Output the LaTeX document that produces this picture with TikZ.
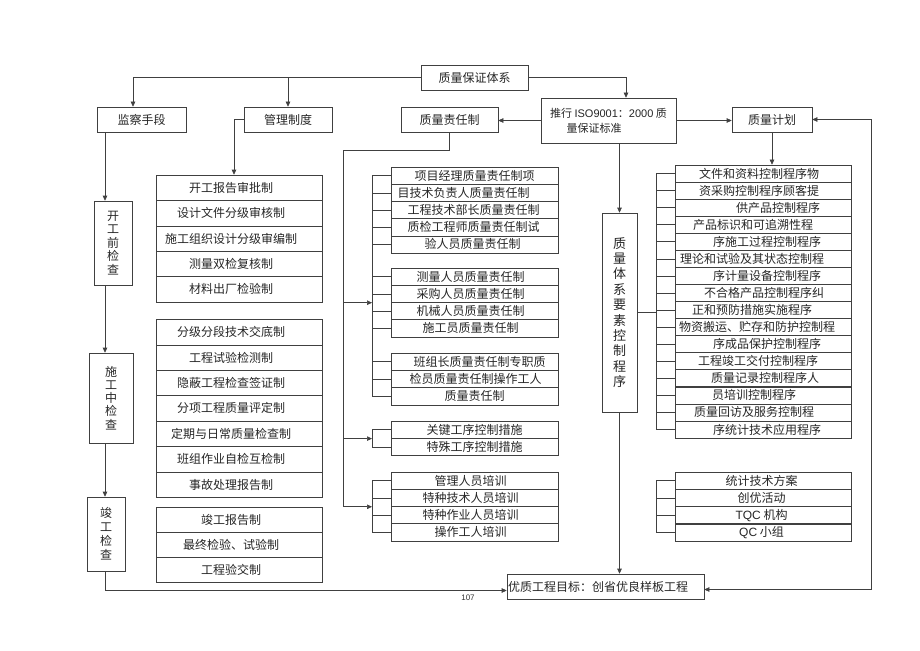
\documentclass[tikz,border=0pt]{standalone}
\usepackage{fontspec}
\setmainfont{Noto Sans CJK SC}
\newfontfamily\latinf{Liberation Sans}
\usetikzlibrary{arrows.meta,positioning}
\newcommand\zfs[2]{\fontsize{#1}{#2}\selectfont}
\newcommand\lt[1]{{\latinf #1}}
\tikzset{
    box/.style = {draw=black!75, line width=0.6pt, inner sep=0pt, text=black!85, font=\zfs{12}{14}},
    tshift/.style = {execute at begin node={\hspace*{#1pt}}},
    lrow/.style = {box, minimum width=166pt, minimum height=25.4pt, tshift=-16},
    mrow/.style = {box, minimum width=167pt, minimum height=17.2pt},
    rrow/.style = {box, minimum width=176pt, minimum height=17.1pt},
    vbox/.style = {box, align=center},
    link/.style = {draw=black!75, line width=0.6pt},
    arr/.style = {link, -{Triangle[length=5pt,width=4.5pt]}},
}

\begin{document}
\begin{tikzpicture}[x=1pt,y=-1pt]
\fill[white] (0,0) rectangle (920,650);
\useasboundingbox (0,0) rectangle (920,650);

% top row
\node[box, minimum width=107pt, minimum height=25pt] (sys) at (474.5,77.5) {质量保证体系};
\node[box, minimum width=89pt, minimum height=25pt] (jc) at (141.5,119.5) {监察手段};
\node[box, minimum width=88pt, minimum height=25pt] (gl) at (288,119.5) {管理制度};
\node[box, minimum width=97pt, minimum height=25pt] (zr) at (449.5,119.5) {质量责任制};
\node[box, minimum width=135pt, minimum height=45pt, align=left, font=\zfs{11}{15}] (iso) at (608.5,120.5)
    {推行 \lt{ISO9001}：\lt{2000} 质\\\hspace*{1.5em}量保证标准};
\node[box, minimum width=80pt, minimum height=25pt] (jh) at (772,119.5) {质量计划};

% inspection stages
\node[vbox, minimum width=38pt, minimum height=84pt, font=\zfs{12}{13.5}] (kg) at (113,243) {开\\工\\前\\检\\查};
\node[vbox, minimum width=44pt, minimum height=90pt, font=\zfs{12}{13.2}] (sg) at (111,398) {施\\工\\中\\检\\查};
\node[vbox, minimum width=38pt, minimum height=74pt, font=\zfs{12}{14}] (jg) at (106,534) {竣\\工\\检\\查};
\node[vbox, minimum width=35pt, minimum height=199pt, font=\zfs{13}{15.4}] (ys) at (619.5,312.5) {质\\量\\体\\系\\要\\素\\控\\制\\程\\序};

% goal
\node[box, minimum width=197pt, minimum height=25pt, tshift=-15] (goal) at (605.5,586.5) {优质工程目标：创省优良样板工程};
\node[text=black!80, font=\zfs{8}{8}\latinf] (pg) at (468,598) {107};

% management tables
\foreach \t [count=\i] in {开工报告审批制,设计文件分级审核制,施工组织设计分级审编制,测量双检复核制,材料出厂检验制}
    \node[lrow] (kb\i) at (239,{175+25.4*(\i-0.5)}) {\t};
\foreach \t [count=\i] in {分级分段技术交底制,工程试验检测制,隐蔽工程检查签证制,分项工程质量评定制,定期与日常质量检查制,班组作业自检互检制,事故处理报告制}
    \node[lrow] (sb\i) at (239,{319.5+25.4*(\i-0.5)}) {\t};
\foreach \t [count=\i] in {竣工报告制,最终检验、试验制,工程验交制}
    \node[lrow] (jb\i) at (239,{507+25.2*(\i-0.5)}) {\t};

% responsibility tables
\foreach \t/\d [count=\i] in {项目经理质量责任制项/0,目技术负责人质量责任制/-22,工程技术部长质量责任制/-2,质检工程师质量责任制试/-2,验人员质量责任制/-4}
    \node[mrow, tshift=\d] (za\i) at (474.5,{167+17.2*(\i-0.5)}) {\t};
\foreach \t [count=\i] in {测量人员质量责任制,采购人员质量责任制,机械人员质量责任制,施工员质量责任制}
    \node[mrow, tshift=-8] (zb\i) at (474.5,{268+17.2*(\i-0.5)}) {\t};
\foreach \t/\d [count=\i] in {班组长质量责任制专职质/10,检员质量责任制操作工人/2,质量责任制/0}
    \node[mrow, tshift=\d] (zc\i) at (474.5,{353+17.3*(\i-0.5)}) {\t};
\foreach \t [count=\i] in {关键工序控制措施,特殊工序控制措施}
    \node[mrow] (zd\i) at (474.5,{421+17.4*(\i-0.5)}) {\t};
\foreach \t [count=\i] in {管理人员培训,特种技术人员培训,特种作业人员培训,操作工人培训}
    \node[mrow, tshift=-8] (ze\i) at (474.5,{472+17.25*(\i-0.5)}) {\t};

% procedure tables
\foreach \t/\d [count=\i] in {文件和资料控制程序物/-8,资采购控制程序顾客提/-8,供产品控制程序/30,产品标识和可追溯性程/-20,序施工过程控制程序/8,理论和试验及其状态控制程/-22,序计量设备控制程序/8,不合格产品控制程序纠/2,正和预防措施实施程序/-22,物资搬运、贮存和防护控制程/-12,序成品保护控制程序/8,工程竣工交付控制程序/-10,质量记录控制程序人/4,员培训控制程序/-18,质量回访及服务控制程/-18,序统计技术应用程序/8}
    \node[rrow, tshift=\d] (ca\i) at (763,{165+17.06*(\i-0.5)}) {\t};
\foreach \t [count=\i] in {统计技术方案,创优活动,\lt{TQC} 机构,\lt{QC} 小组}
    \node[rrow, tshift=-3] (cb\i) at (763,{472+17.25*(\i-0.5)}) {\t};

% connectors
\coordinate (lx) at (105,0);
\coordinate (jcin) at (133,0);
\coordinate (bus) at (343,150);
\coordinate (mx) at (372,0);
\coordinate (rx) at (656,0);

\draw[arr] (sys.west) -| (jc.north -| jcin);
\draw[arr] (gl.north |- sys.west) -- (gl.north);
\draw[arr] (sys.east) -| ([xshift=17.5pt]iso.north);
\draw[arr] (iso.west) -- (iso.west -| zr.east);
\draw[arr] (iso.east) -- (iso.east -| jh.west);
\draw[arr] (ys.north |- iso.south) -- (ys.north);
\draw[arr] (ys.south) -- (ys.south |- goal.north);
\draw[arr] (jh.south) -- (jh.south |- ca1.north);
\draw[link, {Triangle[length=5pt,width=4.5pt]}-{Triangle[length=5pt,width=4.5pt]}]
    (jh.east) -- ++(59,0) |- ([yshift=-3pt]goal.east);

\draw[arr] (jc.south -| lx) -- (kg.north -| lx);
\draw[arr] (kg.south -| lx) -- (sg.north -| lx);
\draw[arr] (sg.south -| lx) -- (jg.north -| lx);
\draw[arr] (jg.south -| lx) |- ([yshift=-4pt]goal.west);
\draw[arr] (gl.west) -| ([xshift=-5pt]kb1.north);

\draw[link] (zr.south) |- (bus) -- (bus |- ze2.south);
\draw[arr] (bus |- zb2.south) -- (mx |- zb2.south);
\draw[arr] (bus |- zd1.south) -- (mx |- zd1.south);
\draw[arr] (bus |- ze2.south) -- (mx |- ze2.south);

\draw[link] (mx |- za1) -- (mx |- zc3);
\foreach \n in {za1,za2,za3,za4,za5,zb1,zb2,zb3,zb4,zc1,zc2,zc3}
    \draw[link] (mx |- \n) -- (\n.west);
\draw[link] (mx |- zd1) -- (mx |- zd2);
\foreach \n in {zd1,zd2}
    \draw[link] (mx |- \n) -- (\n.west);
\draw[link] (mx |- ze1) -- (mx |- ze4);
\foreach \n in {ze1,ze2,ze3,ze4}
    \draw[link] (mx |- \n) -- (\n.west);

\draw[link] (ys.east) -- (rx |- ys.east);
\draw[link] (rx |- ca1) -- (rx |- ca16);
\foreach \i in {1,...,16}
    \draw[link] (rx |- ca\i) -- (ca\i.west);
\draw[link] (rx |- cb1) -- (rx |- cb4);
\foreach \i in {1,...,4}
    \draw[link] (rx |- cb\i) -- (cb\i.west);
\end{tikzpicture}
\end{document}
